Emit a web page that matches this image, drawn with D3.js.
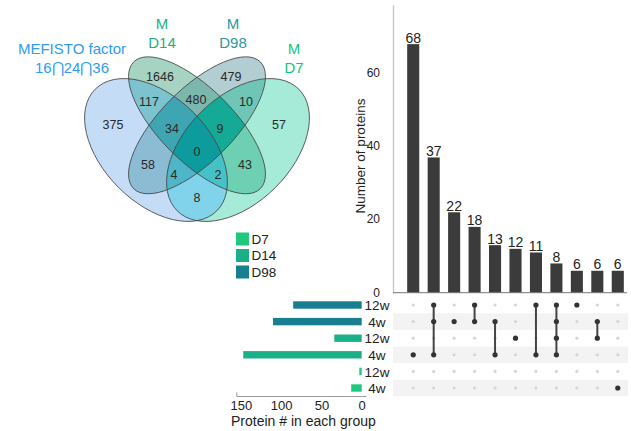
<!DOCTYPE html>
<html><head><meta charset="utf-8">
<script src="https://cdn.jsdelivr.net/npm/d3@7"></script>
<style>
html,body{margin:0;padding:0;background:#fff;}
svg{display:block;font-family:"Liberation Sans",Arial,Helvetica,sans-serif;}
</style></head><body>
<svg id="chart" width="631" height="431"></svg>
<script>
// ---- Venn data: MEFISTO factor set (A) vs. M D14 (B), M D98 (C), M D7 (D)
const vennSetKeys = ["A", "B", "C", "D"];
const vennRegionKeys = ["A","B","C","D","AB","BC","CD","AC","BD","AD","ABC","BCD","ACD","ABD","ABCD"];
const vennRegionCounts = [375, 1646, 479, 57, 117, 480, 10, 58, 43, 8, 34, 9, 4, 2, 0];

// ---- UpSet data
const intersectionSizes = [68, 37, 22, 18, 13, 12, 11, 8, 6, 6, 6];
const intersectionMembers = [[3], [0,1,3], [1], [0,1], [1,3], [2], [0,3], [0,1,2,3], [0], [1,2], [5]];
const setRowLabels = ["12w", "4w", "12w", "4w", "12w", "4w"];
const setRowGroups = ["D98", "D98", "D14", "D14", "D7", "D7"];
const setSizes = [85, 110, 34, 147, 3, 13];
const groupNames = ["D7", "D14", "D98"];
const countTicks = [0, 20, 40, 60];
const sizeTicks = [0, 50, 100, 150];

// ---- styling / layout
const groupColor = {D7: "#1ec87f", D14: "#1cb089", D98: "#177f8f"};
const regionFill = {
  A: "#c5dcf6", B: "#a7d4c2", C: "#b2ced2", D: "#a6ebd7",
  AB: "#7cc2cf", BC: "#7bb7ad", CD: "#6fc6b6", AC: "#8cbbd4", BD: "#6dd0b2", AD: "#80d3ea",
  ABC: "#3ea6b3", BCD: "#15aa95", ACD: "#4fb5c8", ABD: "#45c1c8", ABCD: "#0e9b9d"
};
const ellipseGeom = {
  A: {cx: 156, cy: 150, rx: 86, ry: 53, rot: 45},
  B: {cx: 197, cy: 125.3, rx: 89.6, ry: 36.7, rot: 45},
  C: {cx: 197, cy: 125.3, rx: 89.6, ry: 36.7, rot: -45},
  D: {cx: 238, cy: 150, rx: 86, ry: 53, rot: -45}
};
const regionLabelPos = {
  A: [113, 124], B: [160, 76], C: [231, 76], D: [279, 124],
  AB: [149, 101], BC: [196, 99], CD: [246, 101], AC: [148, 164], BD: [245, 164], AD: [197, 197],
  ABC: [172, 128], BCD: [220, 128], ACD: [174, 174], ABD: [218, 174], ABCD: [197, 151]
};
const setTitles = [
  {lines: ["MEFISTO factor", "16\u22C224\u22C236"], x: 72, y: 49, color: "#2e9cef"},
  {lines: ["M", "D14"], x: 162, y: 24, color: "#1cae82"},
  {lines: ["M", "D98"], x: 233, y: 24, color: "#2a989a"},
  {lines: ["M", "D7"], x: 294, y: 49, color: "#12c47f"}
];

const svg = d3.select("#chart");
const defs = svg.append("defs");

// ---------------- Venn diagram ----------------
vennSetKeys.forEach(k => {
  const g = ellipseGeom[k];
  defs.append("clipPath").attr("id", "clip-" + k)
    .append("ellipse")
    .attr("rx", g.rx).attr("ry", g.ry)
    .attr("transform", `translate(${g.cx},${g.cy}) rotate(${g.rot})`);
});

const venn = svg.append("g").attr("class", "venn");
// paint regions by increasing number of sets; deeper intersections overwrite
const order = vennRegionKeys.map((k, i) => ({k, i})).sort((a, b) => a.k.length - b.k.length);
order.forEach(({k}) => {
  let parent = venn;
  k.split("").forEach(s => { parent = parent.append("g").attr("clip-path", `url(#clip-${s})`); });
  parent.append("rect").attr("x", 0).attr("y", 0).attr("width", 340).attr("height", 240)
    .attr("fill", regionFill[k]);
});
// outlines
venn.selectAll("ellipse.outline").data(vennSetKeys).join("ellipse")
  .attr("class", "outline")
  .attr("rx", k => ellipseGeom[k].rx).attr("ry", k => ellipseGeom[k].ry)
  .attr("transform", k => `translate(${ellipseGeom[k].cx},${ellipseGeom[k].cy}) rotate(${ellipseGeom[k].rot})`)
  .attr("fill", "none").attr("stroke", "#444").attr("stroke-width", 0.9).attr("stroke-opacity", 0.9);

venn.selectAll("text.count").data(vennRegionKeys).join("text")
  .attr("class", "count")
  .attr("x", k => regionLabelPos[k][0]).attr("y", k => regionLabelPos[k][1])
  .attr("dy", "0.36em").attr("text-anchor", "middle")
  .attr("font-size", 12.5).attr("fill", "#2a2a2a")
  .text((k, i) => vennRegionCounts[i]);

setTitles.forEach(t => {
  const tx = svg.append("text").attr("text-anchor", "middle").attr("font-size", 15).attr("fill", t.color);
  t.lines.forEach((ln, j) => {
    tx.append("tspan").attr("x", t.x).attr("y", t.y + j * 19).attr("dy", "0.36em").text(ln);
  });
});

// ---------------- UpSet: intersection bars ----------------
const xBand = d3.scaleBand().domain(d3.range(intersectionSizes.length))
  .range([403, 628]).paddingInner(0.41).paddingOuter(0.205);
const yCount = d3.scaleLinear().domain([0, 78.7]).range([292.7, 5]);
const axisX0 = 393;

const yAxis = svg.append("g").attr("transform", `translate(${axisX0},0)`)
  .call(d3.axisLeft(yCount).tickValues(countTicks).tickSize(0).tickSizeOuter(0).tickPadding(13));
yAxis.select(".domain").attr("stroke", "#c8c8c8").attr("stroke-width", 1.4);
yAxis.selectAll(".tick text").attr("font-size", 12).attr("fill", "#222").attr("dy", "0.28em")
  .attr("font-family", "Liberation Sans, Arial, sans-serif");

svg.append("text")
  .attr("transform", `translate(360,156) rotate(-90)`)
  .attr("text-anchor", "middle").attr("dy", "0.36em")
  .attr("font-size", 13.5).attr("fill", "#222").text("Number of proteins");

svg.selectAll("rect.ibar").data(intersectionSizes).join("rect")
  .attr("class", "ibar")
  .attr("x", (d, i) => xBand(i)).attr("width", xBand.bandwidth())
  .attr("y", d => yCount(d)).attr("height", d => yCount(0) - yCount(d))
  .attr("fill", "#3b3b3b");

svg.selectAll("text.ilabel").data(intersectionSizes).join("text")
  .attr("class", "ilabel")
  .attr("x", (d, i) => xBand(i) + xBand.bandwidth() / 2)
  .attr("y", d => yCount(d) - 1.5)
  .attr("text-anchor", "middle").attr("font-size", 14).attr("fill", "#222")
  .text(d => d);

svg.append("line").attr("x1", axisX0).attr("x2", 627)
  .attr("y1", yCount(0)).attr("y2", yCount(0))
  .attr("stroke", "#777").attr("stroke-width", 1);

// ---------------- UpSet: matrix ----------------
const yRow = d3.scalePoint().domain(d3.range(setRowLabels.length)).range([305, 388]);
const rowH = yRow.step();

svg.selectAll("rect.band").data(d3.range(setRowLabels.length).filter(i => i % 2 === 1)).join("rect")
  .attr("class", "band")
  .attr("x", axisX0).attr("width", 628 - axisX0)
  .attr("y", i => yRow(i) - rowH / 2).attr("height", rowH)
  .attr("fill", "#f3f3f3");

const cols = svg.append("g");
intersectionMembers.forEach((mem, c) => {
  const cx = xBand(c) + xBand.bandwidth() / 2;
  const g = cols.append("g");
  g.selectAll("circle.empty").data(d3.range(setRowLabels.length).filter(r => !mem.includes(r))).join("circle")
    .attr("cx", cx).attr("cy", r => yRow(r)).attr("r", 1.6).attr("fill", "#d6d6d6");
  if (mem.length > 1) {
    g.append("line").attr("x1", cx).attr("x2", cx)
      .attr("y1", yRow(d3.min(mem))).attr("y2", yRow(d3.max(mem)))
      .attr("stroke", "#444").attr("stroke-width", 2);
  }
  g.selectAll("circle.full").data(mem).join("circle")
    .attr("cx", cx).attr("cy", r => yRow(r)).attr("r", 2.6).attr("fill", "#333");
});

// row labels
svg.selectAll("text.rowlab").data(setRowLabels).join("text")
  .attr("class", "rowlab")
  .attr("x", 377).attr("y", (d, i) => yRow(i)).attr("dy", "0.38em")
  .attr("text-anchor", "middle").attr("font-size", 13.5).attr("fill", "#222")
  .text(d => d);

// ---------------- UpSet: set-size bars ----------------
const xSize = d3.scaleLinear().domain([0, 150]).range([361.7, 240.8]);
svg.selectAll("rect.sbar").data(setSizes).join("rect")
  .attr("class", "sbar")
  .attr("x", d => xSize(d)).attr("width", d => xSize(0) - xSize(d))
  .attr("y", (d, i) => yRow(i) - 3.7).attr("height", 7.4)
  .attr("fill", (d, i) => groupColor[setRowGroups[i]]);

const sAxis = svg.append("g").attr("transform", "translate(0,396.5)")
  .call(d3.axisBottom(xSize).tickValues(sizeTicks).tickSize(0).tickSizeOuter(0).tickPadding(4));
sAxis.select(".domain").remove();
sAxis.selectAll(".tick text").attr("font-size", 13).attr("fill", "#222")
  .attr("font-family", "Liberation Sans, Arial, sans-serif");
sAxis.append("path")
  .attr("d", `M${xSize(155)},-4V0H${xSize(-6)}`)
  .attr("fill", "none").attr("stroke", "#999").attr("stroke-width", 1);

svg.append("text").attr("x", 231).attr("y", 426)
  .attr("font-size", 14).attr("fill", "#222").text("Protein # in each group");

// legend
const leg = svg.append("g").attr("transform", "translate(236,232.5)");
groupNames.forEach((gname, i) => {
  leg.append("rect").attr("x", 0).attr("y", i * 16.5).attr("width", 13).attr("height", 13)
    .attr("fill", groupColor[gname]);
  leg.append("text").attr("x", 15.5).attr("y", i * 16.5 + 6.5).attr("dy", "0.36em")
    .attr("font-size", 13.5).attr("fill", "#222").text(gname);
});
</script>
</body></html>
